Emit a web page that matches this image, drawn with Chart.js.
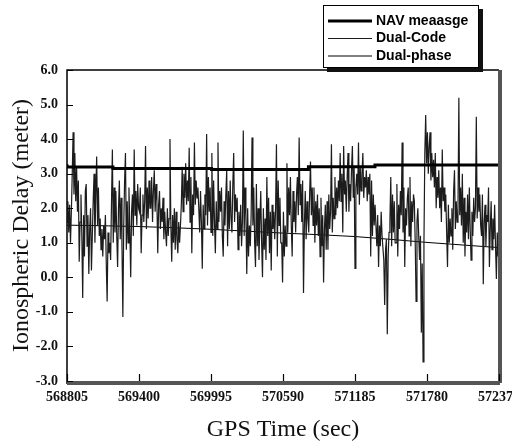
<!DOCTYPE html>
<html lang="en">
<head>
<meta charset="UTF-8" />
<title>Ionospheric Delay</title>
<script src="https://cdn.jsdelivr.net/npm/chart.js"></script>
<style>
  html, body { margin: 0; padding: 0; background: #fff; }
  #wrap { width: 512px; height: 445px; }
</style>
</head>
<body>
<div id="wrap"><canvas id="delayChart" width="512" height="445"></canvas></div>
<script>
// x axis: GPS time (sec)
const timeStart = 568805;
const timeEnd = 572375;
const timeStep = 595;

// NAV message model, value holds until the next change
const navTimes = [568805, 569185, 570000, 570800, 571350, 572003, 572375];
const navVals  = [3.27, 3.19, 3.15, 3.12, 3.20, 3.25, 3.25];

// dual-frequency phase estimate
const phaseTimes = [568805, 569400, 569995, 570590, 571185, 571780, 572375];
const phaseVals  = [1.51, 1.47, 1.39, 1.28, 1.18, 1.01, 0.86];

// dual-frequency code estimate, evenly sampled over the session
const codeVals = [
  1.6, 2.2, 1.3, 2.1, 1.0, 1.9,
  3.0, 4.2, 2.4, 3.6,
  2.2, 3.2, 1.9, 2.8, 0.45, 1.6,
  2.4, 1.2, -0.6, 1.8, 0.6, 2.5,
  2.7, 0.9, 1.8, 0.1,
  1.4, 2.0, 0.2, 1.2, 2.2, 3.0,
  1.0, 2.4, 3.5, 1.5, 2.6, 1.2,
  1.7, 0.8, 1.4, 0.6, 1.5, 1.1,
  1.8, 0.4, -0.7, 1.3, 0.7, 1.0,
  0.5, 2.2, 3.7, 1.0, 2.6, 1.3,
  2.5, 1.2, 0.3, 2.0, 2.8, 1.1, 2.3, 0.9,
  -1.15, 1.5, 2.8, 3.6, 0.8, 2.2, 1.0,
  2.6, 1.4, 0.0, 1.9, 2.4, 1.2,
  3.7, 1.8, 2.5, 1.5, 2.7, 2.0,
  1.9, 2.6, 0.7, 1.8, 2.4, 1.6, 2.2,
  3.8, 1.4, 2.6, 1.7, 2.8, 2.0,
  2.0, 2.9, 1.6, 2.5, 3.1, 1.9, 2.7, 2.2,
  0.7, 2.1, 2.5, 1.4, 2.0, 1.6,
  2.3, 1.1, 1.9, 1.3, 0.9, 2.0, 1.2, 1.7,
  4.0, 1.5, 0.45, 1.8, 1.0, 2.0,
  0.8, 1.9, 1.1, 0.7, 1.6, 1.0, 1.5, 2.1,
  3.2, 1.9, 3.0, 2.3, 3.3, 2.1, 2.8, 2.2,
  3.75, 1.6, 2.9, 0.7, 2.4, 1.8,
  3.9, 2.1, 2.8, 2.3, 2.6, 2.0,
  1.3, 2.5, 1.6, 0.25, 2.1, 1.4, 2.4, 1.8,
  4.15, 1.5, 2.9, 1.9, 2.6, 1.3, 3.6,
  1.2, 2.8, 1.6, 0.7, 2.2, 1.4,
  3.9, 1.6, 2.5, 1.9,
  2.6, 1.2, 0.6, 2.2, 1.5, 2.4,
  3.1, 0.9, 2.5, 1.4, 2.8, 1.7,
  1.3, 2.7, 3.6, 1.6, 2.4, 1.9,
  2.3, 0.8, 1.9, 1.2, 2.1, 0.9, 1.6,
  4.25, 1.2, 2.6, 1.8,
  0.1, 2.0, 0.6, 1.5, 0.9, 1.8,
  4.05, 1.5, 2.6, 1.0,
  0.3, 2.7, 0.9, 2.0, 0.5, 1.6,
  2.5, 1.0, 0.0, 2.0, 0.8, 1.7,
  0.5, 2.9, 1.2, 2.3, 0.7, 1.9,
  0.2, 2.1, 1.4, 1.9, 1.1, 2.0,
  3.85, 0.6, 2.8, 1.5, 2.3, 1.0,
  1.0, -0.15, 1.9, 0.6, 1.5, 0.9,
  3.3, 1.3, 2.6, 1.8, 2.9, 1.5,
  0.6, 2.5, 1.6, 2.2, 1.3, 2.4,
  2.9, 1.8, 4.05, 2.1, 2.7, 1.6, 2.8,
  -0.45, 1.5, 2.5, 1.1, 2.2, 1.7,
  1.3, 2.4, 3.35, 1.8, 2.6, 1.5,
  2.6, 1.0, 2.2, 1.5, 2.4, 1.2, 2.0,
  0.6, 2.3, 0.9, 1.8, -0.15, 1.4, 2.1, 0.8,
  2.2, 0.8, 2.4, 1.4, 1.9, 3.85, 1.3, 2.3,
  1.7, 2.9, 1.8, 2.6, 2.0, 2.8, 2.2,
  3.6, 2.2, 3.0, 1.3, 3.8, 2.4, 2.8, 1.9,
  2.9, 3.6, 1.9, 2.7, 2.2, 3.1,
  3.8, 2.3, 3.2, 0.26, 2.6, 3.0, 2.4,
  3.9, 2.1, 3.2, 2.5, 3.0, 3.6, 2.3, 2.9,
  2.6, 3.1, 2.2, 2.9, 2.4, 3.0,
  0.6, 2.8, 1.2, 2.4, 1.5, 2.1,
  2.1, 0.9, 1.8, 0.3, 1.5, 0.9, 1.9, 1.2,
  1.2, 0.5, -0.8, 0.8, 1.1, -1.65, 0.6, 1.3,
  1.6, 2.9, 0.9, 2.4, 1.3, 2.2, 1.0,
  1.0, 2.7, 0.6, 2.1, 1.4, 2.5,
  1.8, 3.9, 1.3, 2.6, 0.3, 2.0, 1.5, 2.3,
  2.6, 1.2, 2.9, 0.9, 2.2, 1.6, 2.4,
  2.2, 1.0, -0.7, 1.6, 2.0, 1.2,
  0.5, 1.2, -1.6, 0.4, -2.45, 1.0,
  3.6, 4.7, 3.3, 4.2, 3.0, 3.8,
  4.2, 2.8, 3.6, 2.9, 3.4, 2.6,
  3.6, 2.0, 2.9, 2.3, 3.1, 2.0, 2.6,
  1.6, 3.7, 2.2, 2.6, 1.9, 2.4,
  1.3, 0.3, 2.1, 1.0, 1.7, 1.2, 2.0, 0.8,
  2.5, 3.1, 1.4, 2.2, 1.6, 2.0,
  5.2, 1.8, 2.6, 1.5,
  3.0, 1.0, 2.3, 0.6, 1.9, 1.3, 2.4, 1.1,
  2.6, 1.4, 0.5, 1.9, 1.2, 2.3, 1.6, 2.0,
  4.65, 1.7, 2.6, 1.9, 2.4, 1.5,
  1.2, 2.4, -0.2, 1.6, 2.1, 0.9, 1.8,
  1.6, 2.6, 0.3, 1.4, 2.2, 0.8, 1.7, 1.1,
  2.1, 0.9, -0.05, 1.3, 0.6, 1.0
];

const yMin = -3, yMax = 6;

const navData = navTimes.map((t, i) => ({ x: t, y: navVals[i] }));
const phaseData = phaseTimes.map((t, i) => ({ x: t, y: phaseVals[i] }));
const codeGap = (timeEnd - timeStart) / (codeVals.length - 1);
const codeData = codeVals.map((v, i) => ({ x: timeStart + i * codeGap, y: v }));

const tickFont = { family: "'Liberation Serif', 'DejaVu Serif', serif", size: 14, weight: 'bold' };
const titleFont = { family: "'Liberation Serif', 'DejaVu Serif', serif", size: 24 };

// plot frame with inward tick marks
const frameTicks = {
  id: 'frameTicks',
  afterDatasetsDraw(chart) {
    const { ctx, chartArea: a, scales: { x, y } } = chart;
    ctx.save();
    ctx.strokeStyle = '#000';
    ctx.lineWidth = 1.5;
    ctx.beginPath();
    ctx.moveTo(a.left, a.bottom + 3);
    ctx.lineTo(a.left, a.top);
    ctx.lineTo(a.right, a.top);
    ctx.stroke();
    // shaded right and bottom edges
    ctx.strokeStyle = '#555';
    ctx.lineWidth = 4;
    ctx.beginPath();
    ctx.moveTo(a.right + 1, a.top);
    ctx.lineTo(a.right + 1, a.bottom + 2);
    ctx.moveTo(a.left, a.bottom + 2);
    ctx.lineTo(a.right + 1, a.bottom + 2);
    ctx.stroke();
    ctx.strokeStyle = '#000';
    ctx.lineWidth = 1.2;
    ctx.beginPath();
    y.ticks.forEach(t => {
      const py = Math.round(y.getPixelForValue(t.value)) + 0.5;
      ctx.moveTo(a.left, py);
      ctx.lineTo(a.left + 6, py);
    });
    x.ticks.forEach(t => {
      const px = Math.round(x.getPixelForValue(t.value)) + 0.5;
      ctx.moveTo(px, a.bottom);
      ctx.lineTo(px, a.bottom - 7);
    });
    ctx.stroke();
    ctx.restore();
  }
};

// boxed legend with shadow in the top right corner
const boxLegend = {
  id: 'boxLegend',
  afterDraw(chart) {
    const ctx = chart.ctx;
    const bx = 323, by = 5, bw = 156, bh = 63;
    ctx.save();
    ctx.fillStyle = '#111';
    ctx.fillRect(bx + 4, by + 4, bw, bh);
    ctx.fillStyle = '#fff';
    ctx.fillRect(bx, by, bw, bh);
    ctx.strokeStyle = '#000';
    ctx.lineWidth = 1;
    ctx.strokeRect(bx + 0.5, by + 0.5, bw - 1, bh - 1);
    ctx.font = "bold 14px 'Liberation Sans', Arial, sans-serif";
    ctx.textBaseline = 'middle';
    ctx.fillStyle = '#000';
    chart.data.datasets.forEach((ds, i) => {
      const ly = by + 16 + i * 17.5;
      ctx.strokeStyle = ds.borderColor;
      ctx.lineWidth = Math.min(ds.borderWidth, 3);
      ctx.beginPath();
      ctx.moveTo(bx + 5, ly);
      ctx.lineTo(bx + 49, ly);
      ctx.stroke();
      ctx.fillText(ds.label, bx + 53, ly);
    });
    ctx.restore();
  }
};

new Chart(document.getElementById('delayChart'), {
  type: 'line',
  data: {
    datasets: [
      { label: 'NAV meaasge', data: navData, stepped: 'after', borderColor: '#000', borderWidth: 3, pointRadius: 0 },
      { label: 'Dual-Code', data: codeData, borderColor: '#1c1c1c', borderWidth: 1.2, pointRadius: 0, tension: 0 },
      { label: 'Dual-phase', data: phaseData, borderColor: '#000', borderWidth: 1, pointRadius: 0, cubicInterpolationMode: 'monotone' }
    ]
  },
  options: {
    responsive: false,
    animation: false,
    layout: { padding: { top: 70, right: 13, left: 0, bottom: 0 } },
    plugins: { legend: { display: false }, tooltip: { enabled: false } },
    scales: {
      x: {
        type: 'linear',
        min: timeStart,
        max: timeEnd,
        grid: { display: false, drawTicks: false },
        border: { display: false },
        ticks: {
          stepSize: timeStep,
          color: '#111',
          font: tickFont,
          padding: 8,
          maxRotation: 0,
          callback: v => String(v)
        },
        title: { display: true, text: 'GPS Time (sec)', color: '#111', font: titleFont, padding: { top: 0, bottom: 1 } },
        afterFit(scale) {
          scale.height = 64;
          scale.paddingLeft = 0;
          scale.paddingRight = 0;
        }
      },
      y: {
        min: yMin,
        max: yMax,
        grid: { display: false, drawTicks: false },
        border: { display: false },
        ticks: {
          stepSize: 1,
          color: '#111',
          font: tickFont,
          padding: 9,
          callback: v => v.toFixed(1)
        },
        title: { display: true, text: 'Ionospheric Delay (meter)', color: '#111', font: titleFont, padding: { top: 7, bottom: 0 } },
        afterFit(scale) {
          scale.width = 67;
        }
      }
    }
  },
  plugins: [frameTicks, boxLegend]
});
</script>
</body>
</html>
